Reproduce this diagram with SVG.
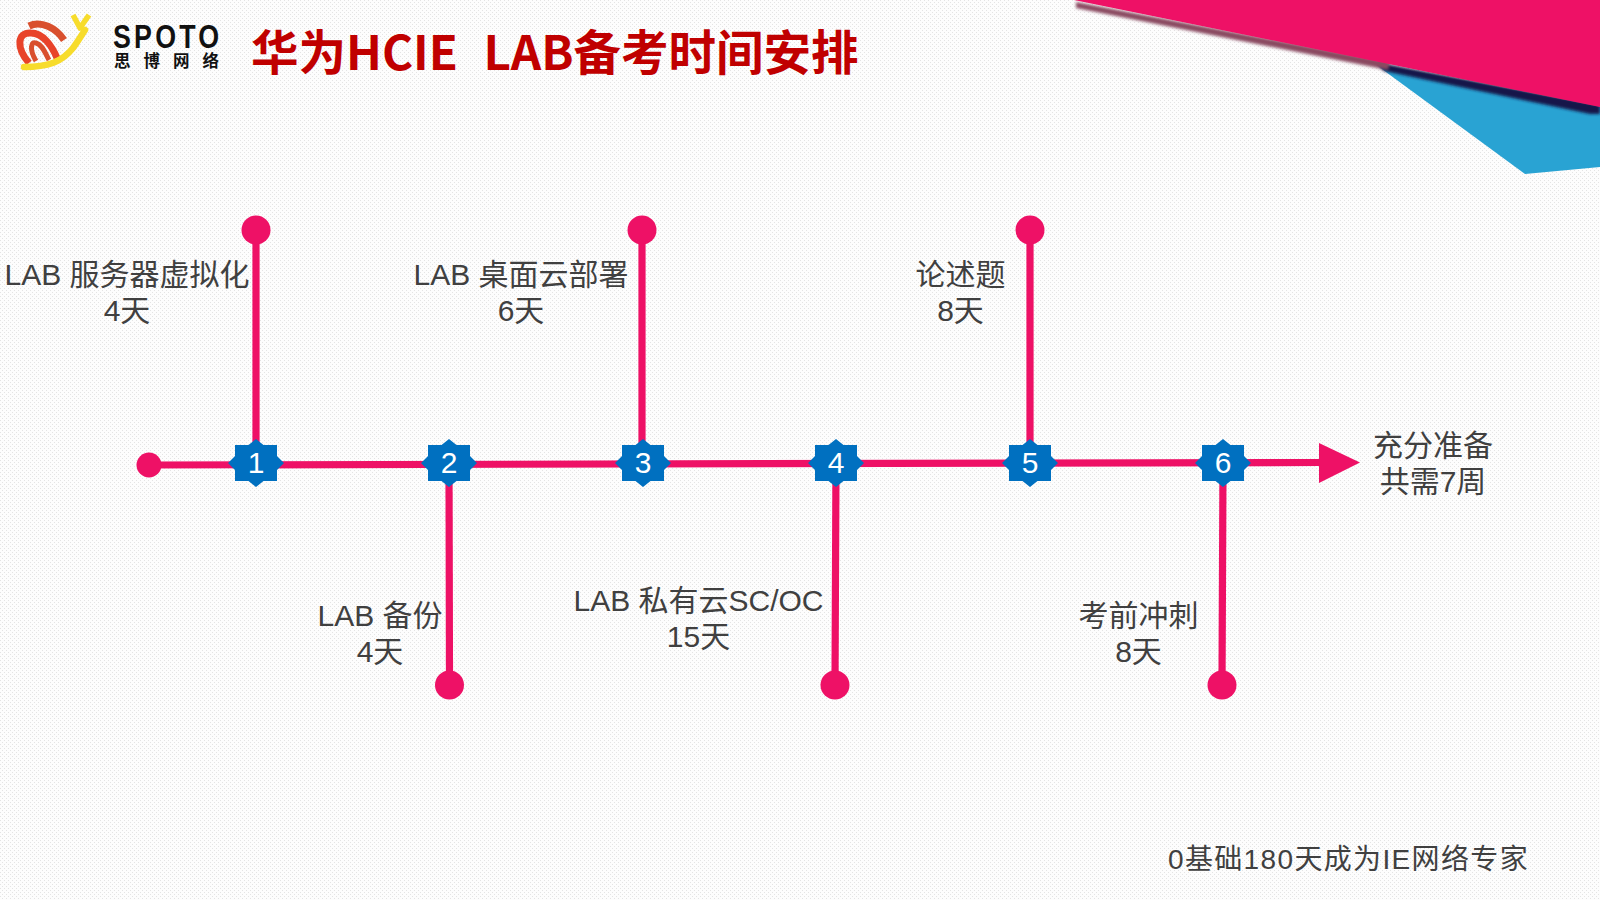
<svg xmlns="http://www.w3.org/2000/svg" width="1600" height="900" viewBox="0 0 1600 900">
<style>
.l{font-family:"Liberation Sans","Noto Sans CJK SC",sans-serif;font-size:30px;fill:#404040;text-anchor:middle}
.n{font-family:"Liberation Sans",sans-serif;font-size:30px;fill:#fff;text-anchor:middle}
.c{stroke:#ee1166;stroke-width:7.2;fill:none}
.d{fill:#ee1166}
.s{fill:#0070c0}
</style>
<defs>
<pattern id="bg" width="4" height="4" patternUnits="userSpaceOnUse"><rect width="4" height="4" fill="#fdfdfd"/><rect width="1" height="1" fill="#e4e4e4"/><rect x="2" y="2" width="1" height="1" fill="#e4e4e4"/></pattern>
<filter id="sh" x="-5%" y="-30%" width="110%" height="160%"><feGaussianBlur stdDeviation="1.6"/></filter>
<polygon id="star" points="0,-24 7.5,-18 21,-18 21,-7 28,0 21,7 21,18 7.5,18 0,24 -7.5,18 -21,18 -21,7 -28,0 -21,-7 -21,-18 -7.5,-18"/>
</defs>
<rect width="1600" height="900" fill="url(#bg)"/>
<g id="banner">
<polygon points="1375,64 1600,107 1600,167 1525,174" fill="#29a3d3"/>
<polygon points="1376,62 1600,105 1600,114 1590,114 1384,71" fill="#15154a" filter="url(#sh)"/>
<polygon points="1076,2 1390,62 1388,70 1076,8" fill="#8a4a60" filter="url(#sh)"/>
<polygon points="1074,0 1600,0 1600,107" fill="#ee1166"/>
</g>
<g id="logo">
<path d="M29,63 C16,48 17,32 31,33 C43,33 52,46 57,58" fill="none" stroke="#e8432a" stroke-width="7"/>
<path d="M36,61 C29,49 31,41 36,43 C43,45 45,53 49,60" fill="none" stroke="#d9502e" stroke-width="5"/>
<path d="M29,26 C41,20 56,28 64,40" fill="none" stroke="#d9502e" stroke-width="7"/>
<path d="M24,67 C48,67 62,62 73,48 C79,40 81,36 85,30" fill="none" stroke="#f7dc2c" stroke-width="6.5" stroke-linecap="round"/>
<path d="M73,15 L80,28 L89,15" fill="none" stroke="#f7dc2c" stroke-width="5.5" stroke-linejoin="round"/>
<text transform="translate(113,48) scale(.8,1)" font-family="'Liberation Sans',sans-serif" font-size="33.5" font-weight="bold" letter-spacing="4" fill="#111">SPOTO</text>
<text x="114" y="67" font-family="'Noto Sans CJK SC',sans-serif" font-size="16.5" font-weight="bold" letter-spacing="13" fill="#111">思博网络</text>
</g>
<text id="title" x="251" y="70" font-family="'Noto Sans CJK SC',sans-serif" font-size="47.5" font-weight="bold" fill="#c00000" xml:space="preserve">华为HCIE  <tspan dx="4">LAB备考时间安排</tspan></text>
<g id="connectors">
<line class="c" x1="149" y1="465" x2="1322" y2="462.5"/>
<line class="c" x1="256" y1="230" x2="256" y2="463"/>
<line class="c" x1="642" y1="230" x2="642" y2="462"/>
<line class="c" x1="1030" y1="230" x2="1030" y2="462"/>
<line class="c" x1="449" y1="463" x2="449.5" y2="685"/>
<line class="c" x1="836" y1="462" x2="835" y2="685"/>
<line class="c" x1="1223" y1="462" x2="1222" y2="685"/>
<polygon class="d" points="1319,443 1360,462.5 1319,483"/>
<circle class="d" cx="149" cy="465" r="12.5"/>
<circle class="d" cx="256" cy="230" r="14.5"/>
<circle class="d" cx="642" cy="230" r="14.5"/>
<circle class="d" cx="1030" cy="230" r="14.5"/>
<circle class="d" cx="449.5" cy="685" r="14.5"/>
<circle class="d" cx="835" cy="685" r="14.5"/>
<circle class="d" cx="1222" cy="685" r="14.5"/>
</g>
<g id="node1"><use href="#star" class="s" x="256" y="463"/><text class="n" x="256" y="473">1</text></g>
<g id="node2"><use href="#star" class="s" x="449" y="463"/><text class="n" x="449" y="473">2</text></g>
<g id="node3"><use href="#star" class="s" x="643" y="463"/><text class="n" x="643" y="473">3</text></g>
<g id="node4"><use href="#star" class="s" x="836" y="463"/><text class="n" x="836" y="473">4</text></g>
<g id="node5"><use href="#star" class="s" x="1030" y="463"/><text class="n" x="1030" y="473">5</text></g>
<g id="node6"><use href="#star" class="s" x="1223" y="463"/><text class="n" x="1223" y="473">6</text></g>
<g id="label1"><text class="l" x="127" y="285">LAB 服务器虚拟化</text><text class="l" x="127" y="321">4天</text></g>
<g id="label2"><text class="l" x="380" y="626">LAB 备份</text><text class="l" x="380" y="662">4天</text></g>
<g id="label3"><text class="l" x="521" y="285">LAB 桌面云部署</text><text class="l" x="521" y="321">6天</text></g>
<g id="label4"><text class="l" x="698.5" y="611">LAB 私有云SC/OC</text><text class="l" x="698.5" y="647">15天</text></g>
<g id="label5"><text class="l" x="960.5" y="285">论述题</text><text class="l" x="960.5" y="321">8天</text></g>
<g id="label6"><text class="l" x="1138.5" y="626">考前冲刺</text><text class="l" x="1138.5" y="662">8天</text></g>
<g id="label7"><text class="l" x="1433" y="456">充分准备</text><text class="l" x="1433" y="492">共需7周</text></g>
<text id="footer" x="1168" y="869" font-family="'Liberation Sans','Noto Sans CJK SC',sans-serif" font-size="28" letter-spacing="1.35" fill="#404040">0基础180天成为IE网络专家</text>
</svg>
